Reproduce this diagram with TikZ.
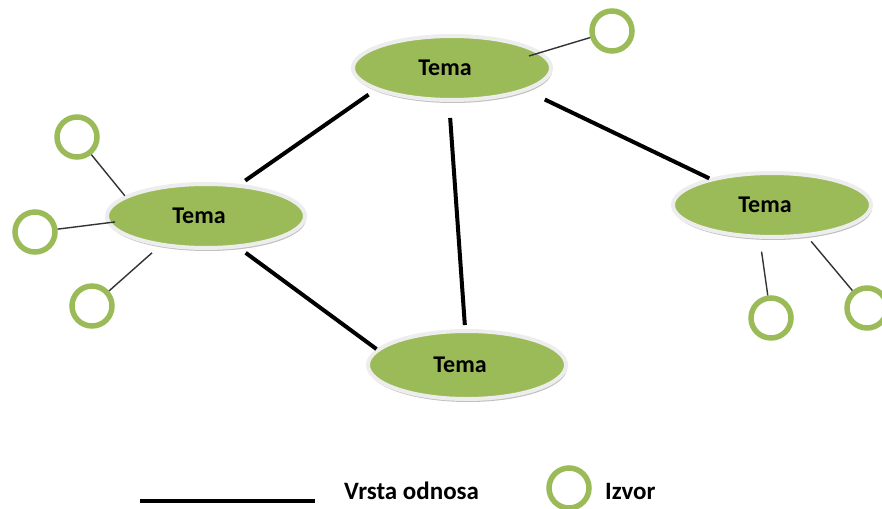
\documentclass[tikz,border=0pt]{standalone}
\usepackage{fontspec}
\setmainfont{Carlito}
\usetikzlibrary{shapes.geometric,shadows}
\definecolor{leaf}{HTML}{9BBB59}
\definecolor{rim}{HTML}{EDEDED}

\begin{document}
\begin{tikzpicture}[x=1pt,y=-1pt,
  tema/.style={ellipse, minimum width=198pt, minimum height=64pt, inner sep=0pt,
    fill=leaf, draw=rim, line width=4pt,
    drop shadow={shadow xshift=1pt, shadow yshift=-3pt, fill=black!45, opacity=.55},
    label={[font=\fontsize{24}{28}\selectfont\bfseries, xshift=-7pt]center:Tema}},
  izvor/.style={circle, minimum size=40pt, inner sep=0pt, draw=leaf, line width=5.5pt},
  odnos/.style={line width=4pt},
  veza/.style={line width=1.4pt, draw=black!80},
  legtext/.style={font=\fontsize{25}{30}\selectfont\bfseries, anchor=base west, inner sep=0pt}]

\useasboundingbox (0,0) rectangle (882,508);

% topics
\node[tema] (top)    at (452,68)  {};
\node[tema] (left)   at (206,216) {};
\node[tema] (right)  at (772,205) {};
\node[tema, minimum height=68pt] (bottom) at (467,365) {};

% sources
\node[izvor] (s1) at (612,31)  {};
\node[izvor] (s2) at (77,137)  {};
\node[izvor] (s3) at (35,232)  {};
\node[izvor] (s4) at (92,306)  {};
\node[izvor] (s5) at (771,318) {};
\node[izvor] (s6) at (867,308) {};

% relations between topics
\draw[odnos, shorten <=8pt, shorten >=6pt]  (top.196) -- (left.43);
\draw[odnos, shorten <=16pt, shorten >=4pt] (top.265) -- (bottom.93);
\draw[odnos, shorten <=20pt]                (top.343) -- (right.157);
\draw[odnos, shorten <=8pt]                 (left.316) -- (bottom.170);

% links from topics to their sources
\draw[veza, shorten <=-13pt] (top.10)    -- (s1);
\draw[veza]                  (left.166)  -- (s2);
\draw[veza, shorten <=-8pt]  (left.184)  -- (s3);
\draw[veza, shorten <=10pt]  (left.213)  -- (s4);
\draw[veza, shorten <=13pt]  (right.250) -- (s5);
\draw[veza, shorten <=6pt]   (right.318) -- (s6);

% legend
\coordinate (la) at (140,501);
\coordinate (lb) at (315,501);
\draw[odnos] (la) -- (lb);
\node[legtext] (lrel) at (344,499) {Vrsta odnosa};
\node[izvor] (s7) at (569,488) {};
\node[legtext] (lsrc) at (605,499) {Izvor};
\end{tikzpicture}
\end{document}
